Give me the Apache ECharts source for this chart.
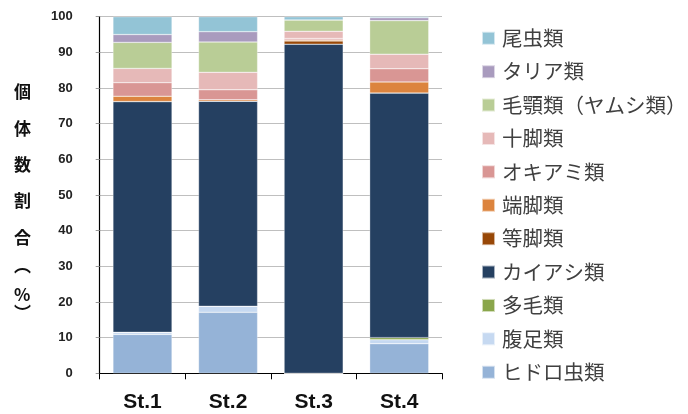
<!DOCTYPE html>
<html>
<head>
<meta charset="utf-8">
<script src="https://cdn.jsdelivr.net/npm/echarts@6/dist/echarts.min.js"></script>
<style>
  html, body { margin: 0; padding: 0; background: #fff; }
  #chart { width: 688px; height: 414px; }
</style>
</head>
<body>
<div id="chart"></div>
<script>
// Stations on the x axis
const stations = ['St.1', 'St.2', 'St.3', 'St.4'];

// Share of individuals (%) per taxon, stacked from the bottom up
const hydrozoa   = [10.9, 17.1, 0.0, 8.3];   // ヒドロ虫類
const gastropoda = [0.6, 1.7, 0.0, 1.1];     // 腹足類
const polychaeta = [0.0, 0.0, 0.0, 0.6];     // 多毛類
const copepoda   = [64.7, 57.5, 92.3, 68.6]; // カイアシ類
const isopoda    = [0.0, 0.0, 0.9, 0.0];     // 等脚類
const amphipoda  = [1.5, 0.4, 0.3, 3.1];     // 端脚類
const euphausia  = [3.8, 2.8, 0.4, 3.7];     // オキアミ類
const decapoda   = [4.0, 4.9, 2.0, 4.1];     // 十脚類
const chaetognatha = [7.3, 8.5, 3.2, 9.4];   // 毛顎類（ヤムシ類）
const thaliacea  = [2.2, 2.9, 0.0, 0.8];     // タリア類
const appendicularia = [5.0, 4.2, 0.9, 0.4]; // 尾虫類

// Y axis ticks
const yTicks = [0, 10, 20, 30, 40, 50, 60, 70, 80, 90, 100];

const seriesDefs = [
  { name: 'ヒドロ虫類', data: hydrozoa, color: '#95b3d7' },
  { name: '腹足類', data: gastropoda, color: '#c6d9f1' },
  { name: '多毛類', data: polychaeta, color: '#8aa64b' },
  { name: 'カイアシ類', data: copepoda, color: '#254061' },
  { name: '等脚類', data: isopoda, color: '#984807' },
  { name: '端脚類', data: amphipoda, color: '#dc843e' },
  { name: 'オキアミ類', data: euphausia, color: '#d99694' },
  { name: '十脚類', data: decapoda, color: '#e6b9b8' },
  { name: '毛顎類（ヤムシ類）', data: chaetognatha, color: '#b9cd96' },
  { name: 'タリア類', data: thaliacea, color: '#a99bbe' },
  { name: '尾虫類', data: appendicularia, color: '#93c4d6' }
];

const chart = echarts.init(document.getElementById('chart'), null, { renderer: 'canvas' });

// Vertical axis title, one glyph per line
const titleChars = ['個', '体', '数', '割', '合', '︵', '%', '︶'];
const titleY = [92, 129, 165, 201, 238, 266, 295, 313];
const titleGraphics = titleChars.map((ch, i) => ({
  type: 'text',
  left: 14,
  top: titleY[i] - 9,
  style: {
    text: ch,
    fontSize: 17,
    fontWeight: 'bold',
    fontFamily: 'Noto Sans CJK JP',
    fill: '#111',
    width: 18,
    align: 'center'
  }
}));

chart.setOption({
  animation: false,
  backgroundColor: '#fff',
  grid: { left: 99.7, right: 246, top: 16.7, bottom: 40.7 },
  legend: {
    orient: 'vertical',
    left: 476,
    top: 23,
    itemWidth: 13,
    itemHeight: 13,
    itemGap: 12.9,
    icon: 'rect',
    data: seriesDefs.map(s => s.name).reverse(),
    textStyle: {
      fontSize: 20.5,
      lineHeight: 20,
      color: '#404040',
      fontFamily: 'Noto Sans CJK JP',
      padding: [0, 0, 0, 2]
    }
  },
  xAxis: {
    type: 'category',
    data: stations,
    axisLine: { lineStyle: { color: '#000', width: 1 } },
    axisTick: { show: true, length: 6, lineStyle: { color: '#000' } },
    axisLabel: {
      fontSize: 21,
      fontWeight: 'bold',
      color: '#111',
      fontFamily: 'Liberation Sans',
      margin: 18
    }
  },
  yAxis: {
    type: 'value',
    min: yTicks[0],
    max: yTicks[yTicks.length - 1],
    interval: 10,
    axisLine: { show: true, lineStyle: { color: '#000', width: 1.2 } },
    axisTick: { show: true, length: 4, lineStyle: { color: '#999' } },
    splitLine: { lineStyle: { color: '#bfbfbf', width: 1 } },
    axisLabel: {
      fontSize: 13,
      fontWeight: 'bold',
      color: '#222',
      fontFamily: 'Liberation Sans',
      margin: 27
    }
  },
  graphic: titleGraphics,
  series: seriesDefs.map(s => ({
    name: s.name,
    type: 'bar',
    stack: 'total',
    barWidth: '69%',
    data: s.data,
    itemStyle: { color: s.color, borderColor: 'rgba(255,255,255,0.6)', borderWidth: 0.5 }
  }))
});
</script>
</body>
</html>
